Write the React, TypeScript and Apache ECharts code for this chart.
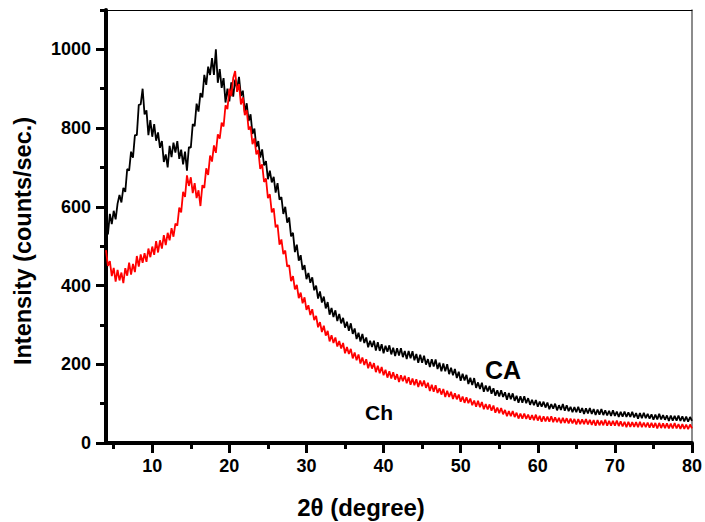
import React, { useEffect, useRef } from "react";
import * as echarts from "echarts";

// 2θ scan grid: start and step (degrees)
const X_START = 4;
const X_STEP = 0.25;

// CA intensity (counts/sec.), one value per 0.25°
const CA: number[] = [
  545, 530, 582, 556, 590, 568, 608, 630, 611, 648, 638, 696, 692, 740, 725, 782, 782, 859, 860, 900,
  835, 845, 782, 820, 778, 810, 768, 789, 750, 767, 714, 733, 700, 755, 726, 763, 738, 767, 722, 745,
  708, 740, 692, 752, 750, 810, 805, 862, 842, 889, 878, 935, 910, 956, 935, 978, 935, 1000, 915, 950,
  902, 927, 865, 900, 868, 916, 880, 923, 900, 930, 882, 895, 840, 863, 818, 835, 785, 799, 752, 767,
  725, 746, 705, 716, 670, 692, 662, 676, 636, 660, 618, 625, 582, 600, 560, 573, 525, 534, 485, 504,
  463, 477, 440, 452, 416, 432, 407, 421, 388, 400, 367, 385, 357, 372, 342, 358, 326, 343, 320, 337,
  310, 328, 304, 318, 293, 308, 285, 304, 277, 291, 264, 280, 258, 277, 254, 268, 243, 260, 244, 260,
  235, 256, 234, 251, 228, 247, 232, 248, 225, 242, 221, 241, 222, 241, 218, 234, 213, 234, 215, 233,
  210, 226, 204, 224, 204, 222, 199, 213, 193, 213, 194, 212, 188, 204, 182, 202, 182, 200, 175, 191,
  172, 188, 165, 181, 158, 176, 159, 173, 150, 166, 147, 165, 140, 154, 137, 153, 130, 146, 131, 145,
  125, 139, 120, 134, 118, 134, 117, 129, 110, 127, 111, 126, 107, 120, 102, 119, 102, 119, 101, 114,
  97, 110, 96, 109, 92, 105, 92, 105, 90, 103, 86, 99, 87, 100, 83, 96, 84, 99, 82, 96,
  81, 92, 78, 91, 78, 92, 77, 89, 74, 88, 75, 89, 74, 86, 71, 85, 72, 86, 71, 83,
  70, 82, 69, 83, 69, 80, 66, 79, 67, 80, 66, 78, 66, 79, 65, 76, 62, 76, 63, 77,
  63, 74, 62, 73, 59, 72, 60, 74, 60, 71, 59, 70, 56, 70, 57, 69, 57, 70, 56, 68,
  55, 67, 54, 66, 56,
];

// Ch intensity (counts/sec.), one value per 0.25°
const CH: number[] = [
  490, 450, 462, 424, 445, 410, 440, 413, 433, 406, 444, 425, 458, 428, 455, 434, 475, 448, 479, 458,
  482, 460, 494, 472, 499, 478, 513, 484, 515, 494, 528, 503, 534, 515, 546, 524, 557, 552, 598, 586,
  638, 625, 680, 653, 675, 635, 660, 622, 642, 602, 655, 648, 698, 681, 730, 715, 756, 737, 784, 773,
  814, 804, 858, 848, 900, 881, 927, 945, 892, 912, 860, 878, 833, 846, 796, 804, 759, 774, 733, 744,
  696, 708, 663, 672, 622, 632, 586, 596, 548, 554, 504, 517, 480, 489, 448, 452, 411, 424, 390, 402,
  368, 382, 355, 370, 338, 350, 325, 340, 312, 323, 294, 307, 282, 298, 273, 285, 258, 274, 254, 268,
  245, 259, 240, 254, 228, 244, 226, 239, 215, 230, 210, 225, 202, 217, 198, 213, 190, 206, 189, 203,
  180, 196, 177, 193, 172, 186, 166, 182, 164, 180, 161, 175, 155, 172, 157, 171, 152, 167, 148, 164,
  147, 162, 142, 159, 144, 159, 140, 153, 132, 148, 130, 147, 127, 139, 123, 137, 117, 133, 117, 130,
  112, 126, 111, 123, 105, 118, 102, 116, 101, 113, 96, 108, 92, 107, 91, 104, 86, 99, 85, 98,
  82, 95, 77, 90, 76, 89, 73, 84, 68, 81, 68, 81, 66, 77, 62, 75, 62, 75, 61, 72,
  59, 71, 58, 72, 57, 69, 54, 68, 55, 67, 54, 68, 53, 65, 53, 64, 50, 64, 51, 63,
  50, 62, 50, 61, 47, 61, 48, 60, 48, 61, 47, 59, 46, 58, 44, 58, 45, 57, 45, 59,
  44, 56, 44, 56, 44, 57, 43, 55, 42, 54, 40, 54, 41, 53, 41, 53, 40, 54, 40, 52,
  40, 52, 39, 51, 39, 51, 37, 51, 38, 50, 38, 50, 37, 49, 37, 51, 37, 48, 36, 48,
  36, 47, 35, 47, 37,
];

const X_MAJOR_TICKS = [10, 20, 30, 40, 50, 60, 70, 80];
const X_MINOR_TICKS = [5, 15, 25, 35, 45, 55, 65, 75];
const Y_MAJOR_TICKS = [0, 200, 400, 600, 800, 1000];
const Y_MINOR_TICKS = [100, 300, 500, 700, 900, 1100];

const X_TITLE = "2θ (degree)";
const Y_TITLE = "Intensity (counts/sec.)";
const LABEL_CA = "CA";
const LABEL_CH = "Ch";

const FONT = '"Liberation Sans", Arial, Helvetica, sans-serif';

const toPairs = (vals: number[]) => vals.map((v, i) => [X_START + i * X_STEP, v]);

export default function App() {
  const ref = useRef<HTMLDivElement>(null);

  useEffect(() => {
    if (!ref.current) return;
    const chart = echarts.init(ref.current, undefined, { renderer: "svg" });
    const tickLabel = {
      color: "#000",
      fontFamily: FONT,
      fontWeight: "bold",
      fontSize: 18,
    };
    const frameOnly = (position: string) => ({
      type: "value",
      position,
      offset: 0,
      splitLine: { show: false },
      axisLine: { show: true, onZero: false, lineStyle: { color: position === "right" ? "#666" : "#000", width: position === "right" ? 1.5 : 1 } },
      axisTick: { show: false },
      axisLabel: { show: false },
    });
    chart.setOption({
      animation: false,
      grid: { left: 106, right: 12, top: 10, bottom: 79 },
      xAxis: [
        {
          type: "value",
          position: "bottom",
          offset: 0,
          min: 4,
          max: 80,
          splitLine: { show: false },
          axisLine: { show: true, onZero: false, lineStyle: { color: "#000", width: 4 } },
          axisTick: {
            show: true,
            length: 10,
            customValues: X_MAJOR_TICKS,
            lineStyle: { color: "#000", width: 3 },
          },
          axisLabel: {
            customValues: X_MAJOR_TICKS,
            margin: 14,
            ...tickLabel,
          },
        },
        { ...frameOnly("top"), min: 4, max: 80 },
        {
          type: "value",
          position: "bottom",
          offset: 0,
          min: 4,
          max: 80,
          splitLine: { show: false },
          axisLine: { show: false },
          axisTick: {
            show: true,
            length: 6,
            customValues: X_MINOR_TICKS,
            lineStyle: { color: "#000", width: 3 },
          },
          axisLabel: { show: false },
        },
      ],
      yAxis: [
        {
          type: "value",
          position: "left",
          offset: 0,
          min: 0,
          max: 1100,
          splitLine: { show: false },
          axisLine: { show: true, onZero: false, lineStyle: { color: "#000", width: 4 } },
          axisTick: {
            show: true,
            length: 10,
            customValues: Y_MAJOR_TICKS,
            lineStyle: { color: "#000", width: 3 },
          },
          axisLabel: {
            customValues: Y_MAJOR_TICKS,
            margin: 15,
            formatter: (v: number) => String(v),
            ...tickLabel,
          },
        },
        { ...frameOnly("right"), min: 0, max: 1100 },
        {
          type: "value",
          position: "left",
          offset: 0,
          min: 0,
          max: 1100,
          splitLine: { show: false },
          axisLine: { show: false },
          axisTick: {
            show: true,
            length: 6,
            customValues: Y_MINOR_TICKS,
            lineStyle: { color: "#000", width: 3 },
          },
          axisLabel: { show: false },
        },
      ],
      series: [
        {
          name: "CA",
          type: "line",
          xAxisIndex: 0,
          yAxisIndex: 0,
          data: toPairs(CA),
          showSymbol: false,
          lineStyle: { color: "#000", width: 1.8 },
          itemStyle: { color: "#000" },
        },
        {
          name: "Ch",
          type: "line",
          xAxisIndex: 0,
          yAxisIndex: 0,
          data: toPairs(CH),
          showSymbol: false,
          lineStyle: { color: "#ff0000", width: 1.8 },
          itemStyle: { color: "#ff0000" },
        },
      ],
      graphic: [
        {
          type: "text",
          x: 361,
          y: 507,
          style: {
            text: X_TITLE,
            font: `bold 24px ${FONT}`,
            fill: "#000",
            align: "center",
            verticalAlign: "middle",
          },
        },
        {
          type: "text",
          x: 23,
          y: 241,
          rotation: Math.PI / 2,
          style: {
            text: Y_TITLE,
            font: `bold 23.5px ${FONT}`,
            fill: "#000",
            align: "center",
            verticalAlign: "middle",
          },
        },
        {
          type: "text",
          x: 503,
          y: 370,
          style: {
            text: LABEL_CA,
            font: `bold 25px ${FONT}`,
            fill: "#000",
            align: "center",
            verticalAlign: "middle",
          },
        },
        {
          type: "text",
          x: 379,
          y: 412,
          style: {
            text: LABEL_CH,
            font: `bold 21px ${FONT}`,
            fill: "#000",
            align: "center",
            verticalAlign: "middle",
          },
        },
      ],
    });
    return () => chart.dispose();
  }, []);

  return (
    <div
      ref={ref}
      style={{ position: "fixed", left: 0, top: 0, width: 705, height: 522, background: "#fff" }}
    />
  );
}
